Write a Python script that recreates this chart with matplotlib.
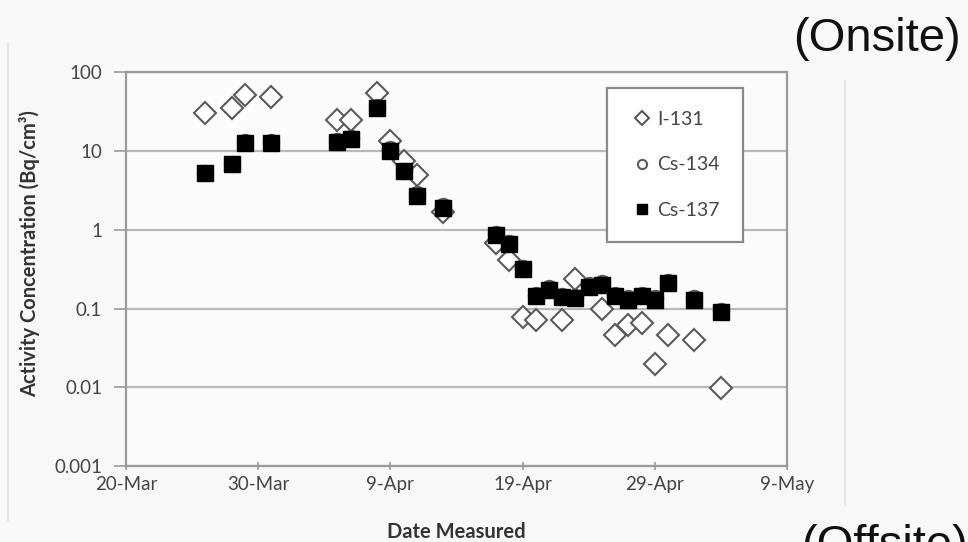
import datetime as dt

import matplotlib.pyplot as plt
import matplotlib.dates as mdates
from matplotlib.ticker import FuncFormatter, LogLocator, NullLocator

# sample dates (2011) and activity concentrations in Bq/cm3
i131_dates = ['03-26', '03-28', '03-29', '03-31', '04-05', '04-06', '04-08', '04-09',
              '04-10', '04-11', '04-13', '04-17', '04-18', '04-19', '04-20', '04-22',
              '04-23', '04-25', '04-26', '04-27', '04-28', '04-29', '04-30', '05-02',
              '05-04']
i131_vals = [30, 35, 51, 48, 25, 25, 54, 13.5, 7.5, 4.9, 1.7, 0.68, 0.41, 0.078, 0.071,
             0.071, 0.24, 0.10, 0.046, 0.061, 0.065, 0.020, 0.046, 0.040, 0.0098]

cs137_dates = ['03-26', '03-28', '03-29', '03-31', '04-05', '04-06', '04-08', '04-09',
               '04-10', '04-11', '04-13', '04-17', '04-18', '04-19', '04-20', '04-21',
               '04-22', '04-23', '04-24', '04-25', '04-26', '04-27', '04-28', '04-29',
               '04-30', '05-02', '05-04']
cs137_vals = [5.2, 6.8, 12.5, 12.5, 13, 14, 35, 10, 5.5, 2.7, 1.9, 0.85, 0.65, 0.32,
              0.145, 0.17, 0.14, 0.135, 0.19, 0.20, 0.145, 0.13, 0.145, 0.13, 0.21,
              0.13, 0.09]
cs134_vals = [5.3, 6.9, 12.8, 12.8, 13.5, 14.5, 36, 10.5, 5.6, 2.8, 2.0, 0.88, 0.68, 0.33,
              0.15, 0.18, 0.145, 0.14, 0.2, 0.21, 0.15, 0.135, 0.15, 0.135, 0.215,
              0.135, 0.092]

FONT = 'Lato'


def to_dates(days):
    return [dt.datetime.strptime('2011-' + d, '%Y-%m-%d') for d in days]


fig = plt.figure(figsize=(9.68, 5.42), dpi=100, facecolor='#f8f8f8')
ax = fig.add_axes([0.130, 0.140, 0.683, 0.727])
ax.set_facecolor('#fbfbfb')

ax.plot(to_dates(i131_dates), i131_vals, 'D', ms=11.5, mfc='white', mec='#5a5a5a',
        mew=1.5, label='I-131', zorder=3)
ax.plot(to_dates(cs137_dates), cs134_vals, 'o', ms=11, mfc='white', mec='#5a5a5a',
        mew=1.5, label='Cs-134', zorder=3)
ax.plot(to_dates(cs137_dates), cs137_vals, 's', ms=12, mfc='black', mec='black',
        label='Cs-137', zorder=4)

ax.set_yscale('log')
ax.set_ylim(0.001, 100)
ax.yaxis.set_major_locator(LogLocator(base=10, numticks=10))
ax.yaxis.set_minor_locator(NullLocator())
ax.yaxis.set_major_formatter(FuncFormatter(lambda v, _: f'{v:g}'))
ax.grid(axis='y', color='#b8b8b8', lw=1.6)

ax.set_xlim(dt.datetime(2011, 3, 20), dt.datetime(2011, 5, 9))
ticks = [dt.datetime(2011, 3, 20) + dt.timedelta(days=10 * i) for i in range(6)]
ax.set_xticks(ticks)
ax.xaxis.set_major_formatter(FuncFormatter(
    lambda v, _: f'{mdates.num2date(v).day}-{mdates.num2date(v):%b}'))

for s in ax.spines.values():
    s.set_color('#9a9a9a')
    s.set_linewidth(1.6)
ax.tick_params(colors='#9a9a9a', labelcolor='#444444', labelsize=13.5, width=1.2)
ax.tick_params(axis='y', length=9, pad=8)
ax.tick_params(axis='x', length=6, direction='inout', pad=4)
for lab in ax.get_xticklabels() + ax.get_yticklabels():
    lab.set_family(FONT)

ax.set_xlabel('Date Measured', fontsize=14.5, fontweight='bold', family=FONT,
              color='#333333', va='center')
ax.xaxis.set_label_coords(0.5, -0.166)
ax.set_ylabel('Activity Concentration (Bq/cm³)', fontsize=14.5, fontweight='bold',
              family=FONT, color='#333333', va='center')
ax.yaxis.set_label_coords(-0.145, 0.54)

leg = ax.legend(loc='upper left', bbox_to_anchor=(0.627, 0.838),
                bbox_transform=fig.transFigure, frameon=True, fancybox=False,
                markerscale=0.6, handlelength=1.2, handletextpad=0.2,
                labelspacing=1.45, borderpad=1.2, borderaxespad=0,
                prop={'family': FONT, 'size': 14})
leg.get_frame().set_edgecolor('#8a8a8a')
leg.get_frame().set_linewidth(1.6)
leg.get_frame().set_facecolor('white')
leg.get_frame().set_alpha(1)
for t in leg.get_texts():
    t.set_color('#444444')

fig.text(0.819, 0.928, '(Onsite)', fontsize=34, family='Liberation Sans',
         color='#111111', va='center')
fig.text(0.828, 0.033, '(Offsite)', fontsize=34, family='Liberation Sans',
         color='#111111', va='top')

# faint panel edges
fig.add_artist(plt.Line2D([0.873, 0.873], [0.07, 0.85], color='#e6e6e6', lw=1.5))
fig.add_artist(plt.Line2D([0.008, 0.008], [0.04, 0.92], color='#e6e6e6', lw=1.5))

fig.savefig('out.png', dpi=100, facecolor=fig.get_facecolor())
